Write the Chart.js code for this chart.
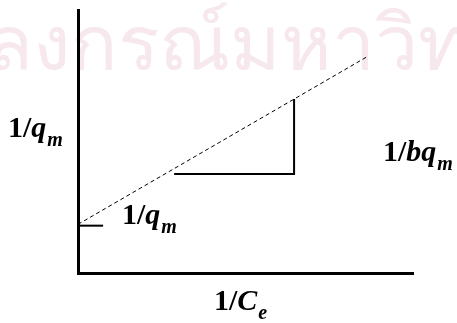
<!DOCTYPE html>
<html>
<head>
<meta charset="utf-8">
<script src="https://cdn.jsdelivr.net/npm/chart.js@4.4.1/dist/chart.umd.min.js"></script>
<style>
  html, body { margin: 0; padding: 0; background: #fff; }
</style>
</head>
<body>
<canvas id="plot" width="457" height="323"></canvas>
<script>
// Linear Langmuir form: 1/q = 1/q_m + (1/(b q_m)) * (1/C_e)
var fitX = [0, 8.6];
var fitY = [1.85, 8.2];
// slope triangle under the fitted line
var slopeX = [2.87, 6.45, 6.45];
var slopeY = [3.76, 3.76, 6.62];
// short mark at the intercept
var interceptX = [0, 0.75];
var interceptY = [1.8, 1.8];

// label text: [upright part, italic symbol, subscript]
var yLabel = ['1/', 'q', 'm'];
var interceptLabel = ['1/', 'q', 'm'];
var slopeLabel = ['1/', 'bq', 'm'];
var xLabel = ['1/', 'C', 'e'];
var watermark = 'จุฬาลงกรณ์มหาวิทยาลัย';

function toPoints(xs, ys) {
  return xs.map(function (x, i) { return { x: x, y: ys[i] }; });
}

function drawLabel(ctx, parts, x, y) {
  var size = 30;
  ctx.fillStyle = '#000';
  ctx.textBaseline = 'alphabetic';
  ctx.textAlign = 'left';
  ctx.font = 'bold ' + size + 'px "Liberation Serif"';
  ctx.fillText(parts[0], x, y);
  x += ctx.measureText(parts[0]).width;
  ctx.font = 'italic bold ' + size + 'px "Liberation Serif"';
  ctx.fillText(parts[1], x, y);
  x += ctx.measureText(parts[1]).width + 1;
  ctx.font = 'italic bold ' + Math.round(size * 0.65) + 'px "Liberation Serif"';
  ctx.fillText(parts[2], x, y + 9);
}

var backdrop = {
  id: 'backdrop',
  beforeDraw: function (chart) {
    var ctx = chart.ctx;
    ctx.save();
    ctx.fillStyle = '#f7e8ee';
    ctx.font = '77px "Noto Sans", sans-serif';
    ctx.textBaseline = 'alphabetic';
    ctx.fillText(watermark, -155, 70);
    ctx.restore();
  }
};

var labels = {
  id: 'labels',
  afterDraw: function (chart) {
    var ctx = chart.ctx;
    ctx.save();
    drawLabel(ctx, yLabel, 8, 137);
    drawLabel(ctx, interceptLabel, 122, 224);
    drawLabel(ctx, slopeLabel, 383, 161);
    drawLabel(ctx, xLabel, 214, 310);
    ctx.restore();
  }
};

var hiddenAxis = function (max) {
  return {
    type: 'linear', min: 0, max: max,
    ticks: { display: false },
    grid: { display: true, drawOnChartArea: false, drawTicks: false },
    border: { display: true, width: 3, color: '#000' }
  };
};

new Chart(document.getElementById('plot'), {
  type: 'scatter',
  data: {
    datasets: [
      {
        data: toPoints(fitX, fitY), showLine: true,
        borderColor: '#000', borderWidth: 1, borderDash: [4, 3],
        pointRadius: 0, clip: false
      },
      {
        data: toPoints(slopeX, slopeY), showLine: true,
        borderColor: '#000', borderWidth: 2,
        pointRadius: 0, clip: false
      },
      {
        data: toPoints(interceptX, interceptY), showLine: true,
        borderColor: '#000', borderWidth: 2,
        pointRadius: 0, clip: false
      }
    ]
  },
  options: {
    responsive: false,
    devicePixelRatio: 1,
    animation: false,
    layout: { padding: { left: 78, right: 44, top: 10, bottom: 50 } },
    scales: { x: hiddenAxis(10), y: hiddenAxis(10) },
    plugins: { legend: { display: false }, tooltip: { enabled: false } }
  },
  plugins: [backdrop, labels]
});
</script>
</body>
</html>
